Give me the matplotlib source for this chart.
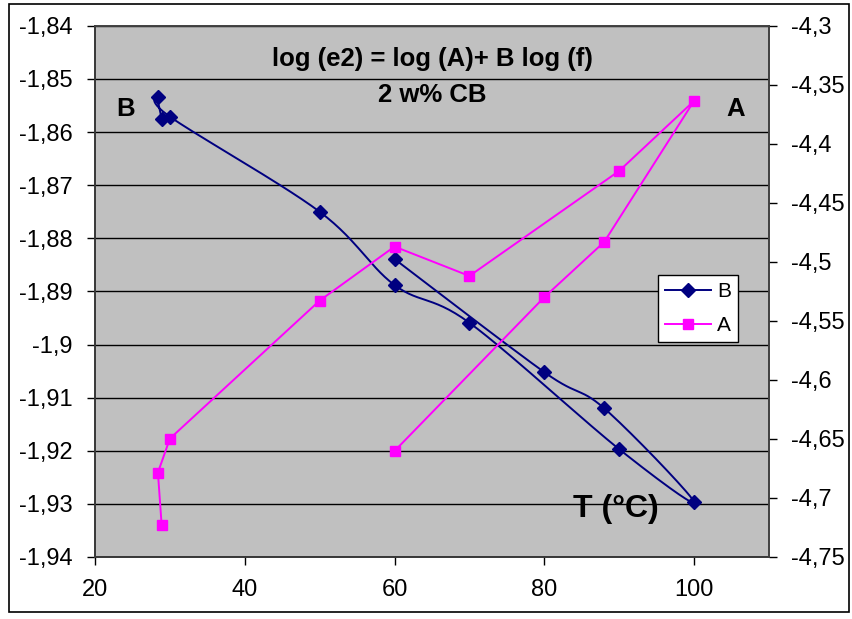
import numpy as np
import matplotlib
matplotlib.use("Agg")
import matplotlib.pyplot as plt
from matplotlib.ticker import MultipleLocator, FuncFormatter
from matplotlib.patches import Rectangle

plt.rcParams['font.family'] = ['Liberation Sans', 'DejaVu Sans']

# temperature sequence of the measurements (heating then cooling)
temp = [28.9, 28.4, 30, 50, 60, 70, 90, 100, 88, 80, 60]
# B exponent (left axis) and log(A) (right axis)
b_vals = [-1.8575, -1.8534, -1.8571, -1.8750, -1.8888, -1.8959, -1.9197,
          -1.9296, -1.9120, -1.9052, -1.8839]
a_vals = [-4.7231, -4.6785, -4.6497, -4.5328, -4.4870, -4.5119, -4.4229,
          -4.3636, -4.4831, -4.5299, -4.6602]


def smooth(x, y, n=30):
    # spreadsheet-style smoothed line: cubic Bezier through every point
    x = np.asarray(x, float)
    y = np.asarray(y, float)
    px = np.concatenate([[x[0]], x, [x[-1]]])
    py = np.concatenate([[y[0]], y, [y[-1]]])
    t = np.linspace(0, 1, n)[:, None]
    xs, ys = [], []
    for i in range(1, len(x)):
        p0 = np.array([px[i], py[i]])
        p3 = np.array([px[i + 1], py[i + 1]])
        c1 = p0 + (np.array([px[i + 1], py[i + 1]]) - np.array([px[i - 1], py[i - 1]])) / 6
        c2 = p3 - (np.array([px[i + 2], py[i + 2]]) - np.array([px[i], py[i]])) / 6
        seg = ((1 - t) ** 3) * p0 + 3 * ((1 - t) ** 2) * t * c1 + 3 * (1 - t) * t ** 2 * c2 + t ** 3 * p3
        xs.append(seg[:, 0])
        ys.append(seg[:, 1])
    return np.concatenate(xs), np.concatenate(ys)


comma = FuncFormatter(lambda v, p: ('%g' % round(v, 4)).replace('.', ','))

fig = plt.figure(figsize=(8.53, 6.19), dpi=100)
ax = fig.add_axes([0.1114, 0.1002, 0.790, 0.858])
ax.set_facecolor('#C0C0C0')
ax2 = ax.twinx()

ax.set_xlim(20, 110)
ax.set_ylim(-1.94, -1.84)
ax2.set_ylim(-4.75, -4.3)
ax.set_xticks([20, 40, 60, 80, 100])
ax.yaxis.set_major_locator(MultipleLocator(0.01))
ax2.yaxis.set_major_locator(MultipleLocator(0.05))
ax.yaxis.set_major_formatter(comma)
ax2.yaxis.set_major_formatter(comma)

ax.grid(axis='y', color='black', linewidth=1.0)
ax.set_axisbelow(True)

for a in (ax, ax2):
    a.tick_params(direction='out', length=6, width=1, labelsize=17, pad=10)
    for s in a.spines.values():
        s.set_color('#404040')
        s.set_linewidth(1.2)
ax.spines['left'].set_color('black')
ax.spines['bottom'].set_color('black')

sx, sy = smooth(temp, b_vals)
ax.plot(sx, sy, color='#000080', linewidth=1.4)
ax.plot(temp, b_vals, linestyle='none', marker='D', markersize=7,
        color='#000080')
lb, = ax.plot([], [], color='#000080', linewidth=1.4, marker='D', markersize=7)

la, = ax2.plot(temp, a_vals, color='#FF00FF', linewidth=1.4, marker='s',
               markersize=7)

ax2.legend([lb, la], ['B', 'A'], loc='upper left',
           bbox_to_anchor=(0.835, 0.531), frameon=True, fancybox=False,
           framealpha=1, edgecolor='black', fontsize=15, handlelength=2.2,
           borderpad=0.35, labelspacing=0.7, handletextpad=0.3,
           borderaxespad=0)

ax.text(0.501, 0.937, 'log (e2) = log (A)+ B log (f)', transform=ax.transAxes,
        ha='center', va='center', fontsize=18.5, fontweight='bold')
ax.text(0.501, 0.87, '2 w% CB', transform=ax.transAxes,
        ha='center', va='center', fontsize=18.5, fontweight='bold')
ax.text(0.046, 0.843, 'B', transform=ax.transAxes, ha='center', va='center',
        fontsize=18.5, fontweight='bold')
ax.text(0.95, 0.843, 'A', transform=ax.transAxes, ha='center', va='center',
        fontsize=18.5, fontweight='bold')
ax.text(0.773, 0.090, 'T (°C)', transform=ax.transAxes, ha='center', va='center',
        fontsize=23, fontweight='bold')

# outer frame around the whole chart
fig.patches.append(Rectangle((0.0105, 0.011), 0.985, 0.982, transform=fig.transFigure,
                             fill=False, edgecolor='black', linewidth=1.2))

fig.savefig('out.png', dpi=100)
